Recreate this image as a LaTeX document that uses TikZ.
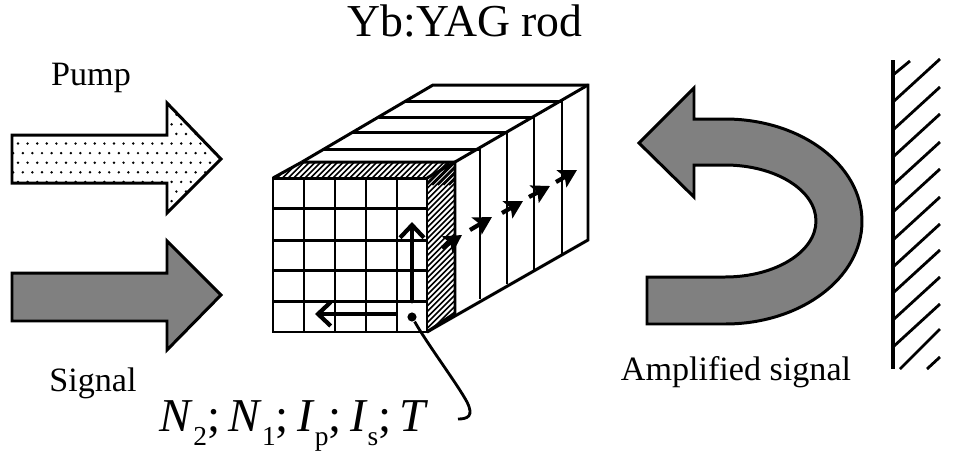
\documentclass[tikz,border=0pt]{standalone}
\usepackage{fontspec}
\setmainfont{Liberation Serif}
\usetikzlibrary{arrows.meta}
\definecolor{beamgray}{HTML}{808080}
\tikzset{
    outline/.style={draw=black,line width=0.85pt,line join=miter},
    cellline/.style={draw=black,line width=0.85pt},
    flowtip/.style={line width=1.2pt,-{Stealth[length=5pt,width=5.5pt,inset=1pt]}},
    axistip/.style={line cap=round,-{Straight Barb[length=3.6pt,width=6.8pt,line width=1.2pt]}},
    hatchline/.style={draw=black,line width=0.45pt},
    mirrorline/.style={draw=black,line width=0.8pt},
    label/.style={inner sep=0pt,font=\fontsize{9.7}{11}\selectfont},
}
\newcommand{\lowidx}[1]{\raisebox{-4.2pt}{\fontsize{7.8}{9}\selectfont #1}}
\begin{document}
\begin{tikzpicture}[x=0.01cm,y=-0.01cm]
    \useasboundingbox (0,0) rectangle (959,454);
    % pump and signal beams
    \begin{scope}
        \clip (12,135) -- (167,135) -- (167,103) -- (221,159) -- (167,213) -- (167,183) -- (12,183) -- cycle;
        \foreach \row in {-5,...,6}
            \foreach \col in {-4,...,22}
                \fill (18+\col*9.6+4.8*\row,143.5+\row*9.6) circle (1.35);
    \end{scope}
    \draw [outline] (12,135) -- (167,135) -- (167,103) -- (221,159) -- (167,213) -- (167,183) -- (12,183) -- cycle;
    \draw [outline,fill=beamgray] (12,273) -- (167,273) -- (167,241) -- (221,295) -- (167,350) -- (167,321) -- (12,321) -- cycle;
    % rod top and side slices
    \draw [outline] (302,162) -- (433,85) -- (588,85) -- (588,240) -- (427,332);
    \draw [outline] (455,162) -- (588,85);
    \foreach \xa/\xb/\yb in {324/480/149, 353/507/132, 379/534/117, 406/562/101}
        \draw [outline] (\xa,\yb) -- (\xb,\yb);
    \draw [outline] (480,149) -- (480,299);
    \draw [outline] (507,132) -- (507,284);
    \draw [outline] (534,117) -- (534,270);
    \draw [outline] (562,101) -- (562,254);
    % hatched faces
    \begin{scope}
        \clip (273,178) -- (302,162) -- (455,162) -- (455,313) -- (427,332) -- (427,178) -- cycle;
        \foreach \k in {0,...,70}
            \draw [hatchline] (270+\k*5.6,185) -- ++(30,-30);
        \foreach \k in {0,...,36}
            \draw [hatchline] (420,190+\k*5.6) -- ++(40,-40);
    \end{scope}
    \draw [outline] (302,162) -- (455,162) -- (455,313) -- (427,332);
    \draw [outline] (427,178) -- (455,162);
    % front grid
    \draw [outline,fill=white] (273,178) rectangle (427,332);
    \foreach \gx in {304,335,366,397}
        \draw [cellline] (\gx,178) -- (\gx,332);
    \foreach \gy in {208,240,270,301}
        \draw [cellline] (273,\gy) -- (427,\gy);
    \draw [outline] (273,178) -- (302,162);
    % arrows in the rod
    \node [fill=black,circle,inner sep=0pt,minimum size=2.6pt] (cellpoint) at (412,317) {};
    \coordinate (axisup) at (412,222);
    \coordinate (axisupstart) at (412,301);
    \coordinate (axisleft) at (315,314);
    \coordinate (axisleftstart) at (396,314);
    \draw [axistip,line width=1.4pt] (axisupstart) -- (axisup);
    \draw [axistip,line width=1pt] (axisleftstart) -- (axisleft);
    \foreach \xa/\ya/\xb/\yb in {442/248/462/235, 470/230/492/217, 502/213/523/201, 529/197/550/186, 556/182/577/170}
        \draw [flowtip] (\xa,\ya) -- (\xb,\yb);
    % returning beam
    \draw [outline,fill=beamgray] (639,143) -- (694,88) -- (694,119) -- (725,119)
        arc [start angle=-90,end angle=90,x radius=137,y radius=102.5]
        -- (647,324) -- (647,277) -- (725,277)
        arc [start angle=90,end angle=-90,x radius=91,y radius=56]
        -- (694,165) -- (694,197) -- cycle;
    % mirror
    \draw [draw=black,line width=0.9pt] (893,60) -- (893,369);
    \draw [mirrorline] (893,75) -- (910,61);
    \foreach \wally in {102,130,157,185,212,240,267,293,320,347}
        \draw [mirrorline] (893,\wally) -- ++(47,-43);
    \draw [mirrorline] (900,369) -- (940,329);
    \draw [mirrorline] (927,369) -- (940,357);
    % labels
    \node [inner sep=0pt,font=\fontsize{13}{15}\selectfont] (title) at (465,21) {Yb:YAG rod};
    \node [label] (pump) at (91,78) {Pump};
    \node [label] (signal) at (93,383) {Signal};
    \node [label] (amplified) at (736,372) {Amplified signal};
    \node [inner sep=0pt,anchor=base west,font=\fontsize{13.4}{15}\selectfont] (quantities) at (159,431)
        {\textit{N}\lowidx{2};\hspace{2.4pt}\textit{N}\lowidx{1};\hspace{2.4pt}\textit{I}\lowidx{p};\hspace{2.4pt}\textit{I}\lowidx{s};\hspace{2.4pt}\textit{T}};
    \coordinate (leadend) at (458,419);
    \draw [draw=black,line width=0.8pt] (cellpoint) .. controls (428,345) and (458,385) .. (467,402) .. controls (474,416) and (468,419) .. (leadend);
\end{tikzpicture}
\end{document}
